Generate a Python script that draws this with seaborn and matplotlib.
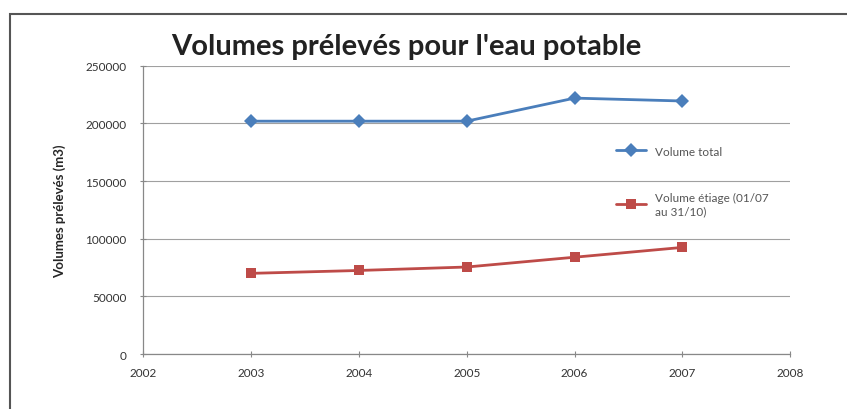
import pandas as pd
import numpy as np
import matplotlib.pyplot as plt
import seaborn as sns
from matplotlib.patches import Rectangle

# valeurs
annees = [2003, 2004, 2005, 2006, 2007]
volume_total = [202000, 202000, 202000, 222000, 219500]
volume_etiage = [70000, 72500, 75500, 84000, 92500]
series = ["Volume total", "Volume étiage (01/07\nau 31/10)"]
couleurs = ["#4A7EBB", "#BE4B48"]
marqueurs = ["D", "s"]
ticks_y = [0, 50000, 100000, 150000, 200000, 250000]
ticks_x = [2002, 2003, 2004, 2005, 2006, 2007, 2008]

df = pd.DataFrame({
    "annee": annees * 2,
    "volume": volume_total + volume_etiage,
    "serie": [series[0]] * len(annees) + [series[1]] * len(annees),
})

sns.set_style("white")
plt.rcParams["font.family"] = ["Lato", "DejaVu Sans"]

fig = plt.figure(figsize=(8.47, 4.10), dpi=100)
ax = fig.add_axes([0.169, 0.134, 0.764, 0.703])

sns.lineplot(
    data=df, x="annee", y="volume", hue="serie", style="serie",
    palette=couleurs, markers=marqueurs, dashes=False,
    markersize=7, linewidth=2, markeredgewidth=0, ax=ax,
)

ax.set_xlim(2002, 2008)
ax.set_ylim(0, 250000)
ax.set_xticks(ticks_x)
ax.set_yticks(ticks_y)
ax.set_xticklabels([str(t) for t in ticks_x], fontsize=8.5, color="#333333")
ax.set_yticklabels([str(t) for t in ticks_y], fontsize=8.5, color="#333333")
ax.yaxis.grid(True, color="#A0A0A0", linewidth=0.8)
ax.tick_params(axis="both", which="both", length=4, direction="inout",
               color="#888888", left=True, bottom=True)
ax.tick_params(axis="y", pad=10)
ax.tick_params(axis="x", pad=7)
for s in ["top", "right"]:
    ax.spines[s].set_visible(False)
for s in ["left", "bottom"]:
    ax.spines[s].set_color("#888888")
    ax.spines[s].set_linewidth(0.9)

ax.set_xlabel("")
ax.set_ylabel("Volumes prélevés (m3)", fontsize=9.5, fontweight="bold", labelpad=14)

ax.legend(title=None, frameon=False, fontsize=8.5, loc="upper left",
          bbox_to_anchor=(0.715, 0.76), labelspacing=3.0, handlelength=2.5,
          labelcolor="#555555")

fig.text(0.48, 0.885, "Volumes prélevés pour l'eau potable",
         ha="center", va="center", fontsize=21, fontweight="bold", color="#222222")

fig.patches.append(Rectangle((0.012, -0.02), 1.0, 0.983, transform=fig.transFigure,
                             fill=False, edgecolor="#555555", linewidth=1.5))

fig.savefig("out.png", dpi=100)
